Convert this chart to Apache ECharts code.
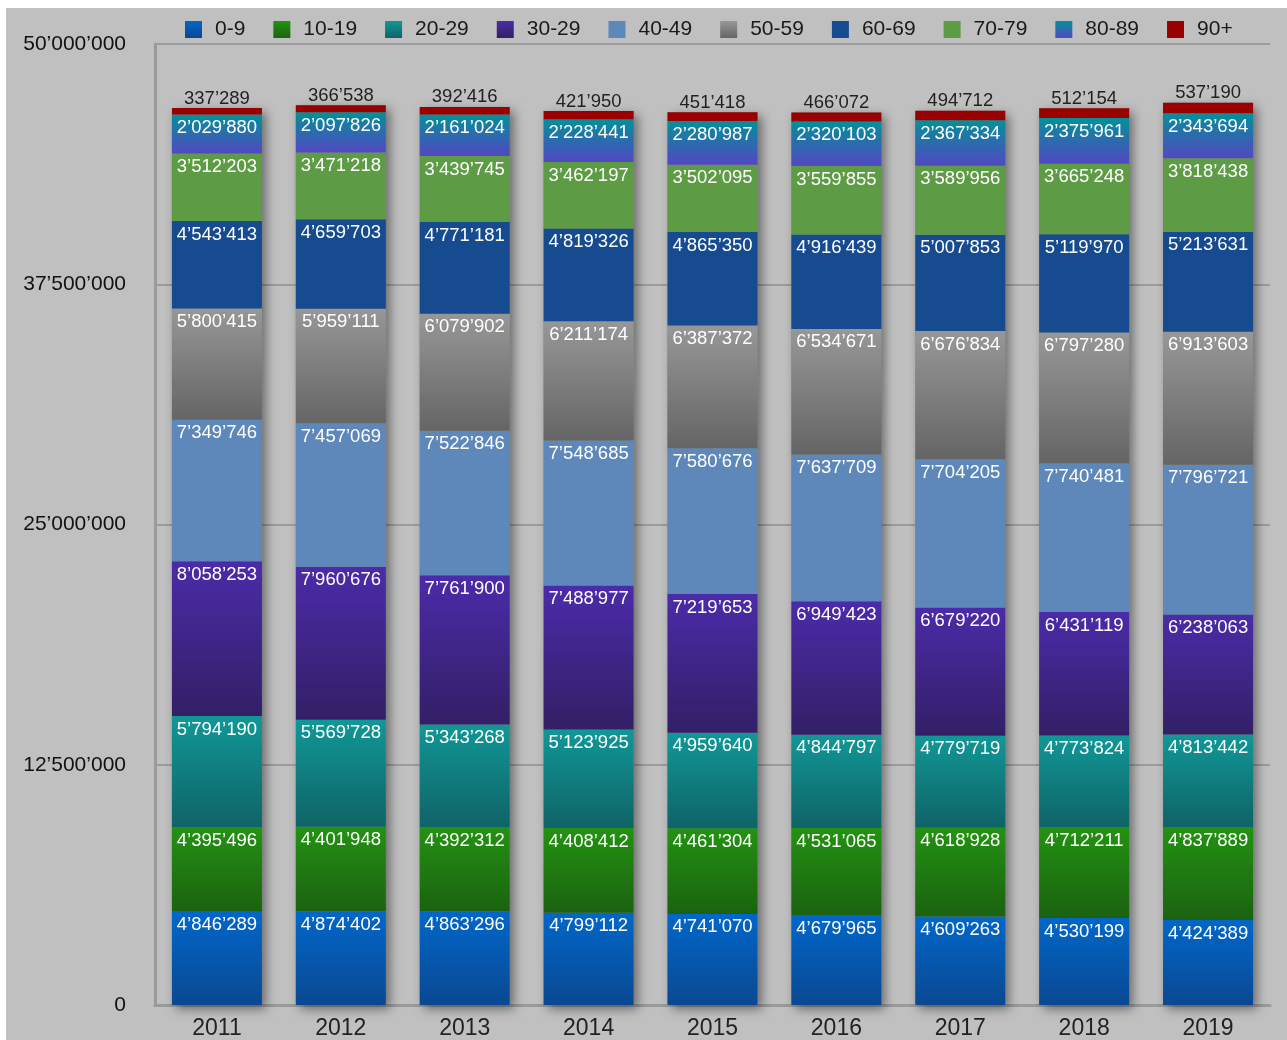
<!DOCTYPE html>
<html>
<head>
<meta charset="utf-8">
<script src="https://cdn.jsdelivr.net/npm/echarts@6/dist/echarts.min.js"></script>
<style>
html,body{margin:0;padding:0;background:#ffffff;}
#chart{position:absolute;left:6px;top:8px;width:1281px;height:1032px;}
</style>
</head>
<body>
<div id="chart"></div>
<script>
const years = ['2011','2012','2013','2014','2015','2016','2017','2018','2019'];
const groupNames = ['0-9','10-19','20-29','30-29','40-49','50-59','60-69','70-79','80-89','90+'];
const yTicks = [0, 12500000, 25000000, 37500000, 50000000];

const age0 = [4846289, 4874402, 4863296, 4799112, 4741070, 4679965, 4609263, 4530199, 4424389];
const age10 = [4395496, 4401948, 4392312, 4408412, 4461304, 4531065, 4618928, 4712211, 4837889];
const age20 = [5794190, 5569728, 5343268, 5123925, 4959640, 4844797, 4779719, 4773824, 4813442];
const age30 = [8058253, 7960676, 7761900, 7488977, 7219653, 6949423, 6679220, 6431119, 6238063];
const age40 = [7349746, 7457069, 7522846, 7548685, 7580676, 7637709, 7704205, 7740481, 7796721];
const age50 = [5800415, 5959111, 6079902, 6211174, 6387372, 6534671, 6676834, 6797280, 6913603];
const age60 = [4543413, 4659703, 4771181, 4819326, 4865350, 4916439, 5007853, 5119970, 5213631];
const age70 = [3512203, 3471218, 3439745, 3462197, 3502095, 3559855, 3589956, 3665248, 3818438];
const age80 = [2029880, 2097826, 2161024, 2228441, 2280987, 2320103, 2367334, 2375961, 2343694];
const age90 = [337289, 366538, 392416, 421950, 451418, 466072, 494712, 512154, 537190];

const allSeries = [age0, age10, age20, age30, age40, age50, age60, age70, age80, age90];

function fmt(v){
  return String(Math.round(v)).replace(/\B(?=(\d{3})+(?!\d))/g, '\u2019');
}
function grad(top, bottom){
  return new echarts.graphic.LinearGradient(0,0,0,1,[{offset:0,color:top},{offset:1,color:bottom}]);
}
const colors = [
  grad('#0167c9','#0a4892'),
  grad('#239212','#1b6210'),
  grad('#119797','#0f6366'),
  grad('#4b2ba9','#331f66'),
  '#5e87ba',
  grad('#979797','#656565'),
  '#164b8f',
  '#5e9b45',
  grad('#03909a','#5347c2'),
  '#990000'
];

const totals = years.map((y,i)=>allSeries.reduce((s,a)=>s+a[i],0));

const font = '"Liberation Sans", Helvetica, Arial, sans-serif';
const barW = 90;

const series = [{
  name: 'total',
  type: 'bar',
  data: totals,
  barWidth: barW,
  barGap: '-100%',
  silent: true,
  z: 1,
  itemStyle: {color:'#8a8a8a', shadowBlur: 10, shadowColor: 'rgba(0,0,0,0.45)', shadowOffsetX: 4, shadowOffsetY: 4},
  label: {show:false}
}];
allSeries.forEach((arr, k)=>{
  const last = k === allSeries.length - 1;
  series.push({
    name: groupNames[k],
    type: 'bar',
    stack: 'pop',
    barWidth: barW,
    z: 3,
    data: arr,
    itemStyle: {color: colors[k]},
    label: {
      show: true,
      position: last ? 'top' : 'insideTop',
      distance: last ? 0 : 4,
      color: last ? '#222222' : '#ffffff',
      fontSize: 18.5,
      fontFamily: font,
      formatter: p => fmt(p.value)
    }
  });
});

const chart = echarts.init(document.getElementById('chart'), null, {renderer:'canvas'});
chart.setOption({
  animation: false,
  backgroundColor: '#c0c0c0',
  textStyle: {fontFamily: font},
  legend: {
    data: groupNames.map(n => ({name: n, icon: 'rect'})),
    left: 174,
    top: 6,
    itemWidth: 17,
    itemHeight: 17,
    itemGap: 28,
    textStyle: {fontSize: 21, color: '#1a1a1a', fontFamily: font, padding: [0,0,0,8]}
  },
  grid: {left: 149, right: 17, top: 36, bottom: 34, containLabel: false},
  xAxis: {
    type: 'category',
    data: years,
    axisLine: {show: true, lineStyle: {color: '#9a9a9a', width: 3}},
    axisTick: {show: false},
    axisLabel: {fontSize: 23, color: '#222222', margin: 12, fontFamily: font}
  },
  yAxis: {
    type: 'value',
    min: yTicks[0],
    max: yTicks[yTicks.length-1],
    interval: yTicks[1] - yTicks[0],
    axisLine: {show: true, lineStyle: {color: '#9a9a9a', width: 3}},
    axisTick: {show: false},
    splitLine: {show: true, lineStyle: {color: '#9c9c9c', width: 2}},
    axisLabel: {fontSize: 21, color: '#111111', margin: 29, fontFamily: font, formatter: v => fmt(v)}
  },
  series: series
});
</script>
</body>
</html>
